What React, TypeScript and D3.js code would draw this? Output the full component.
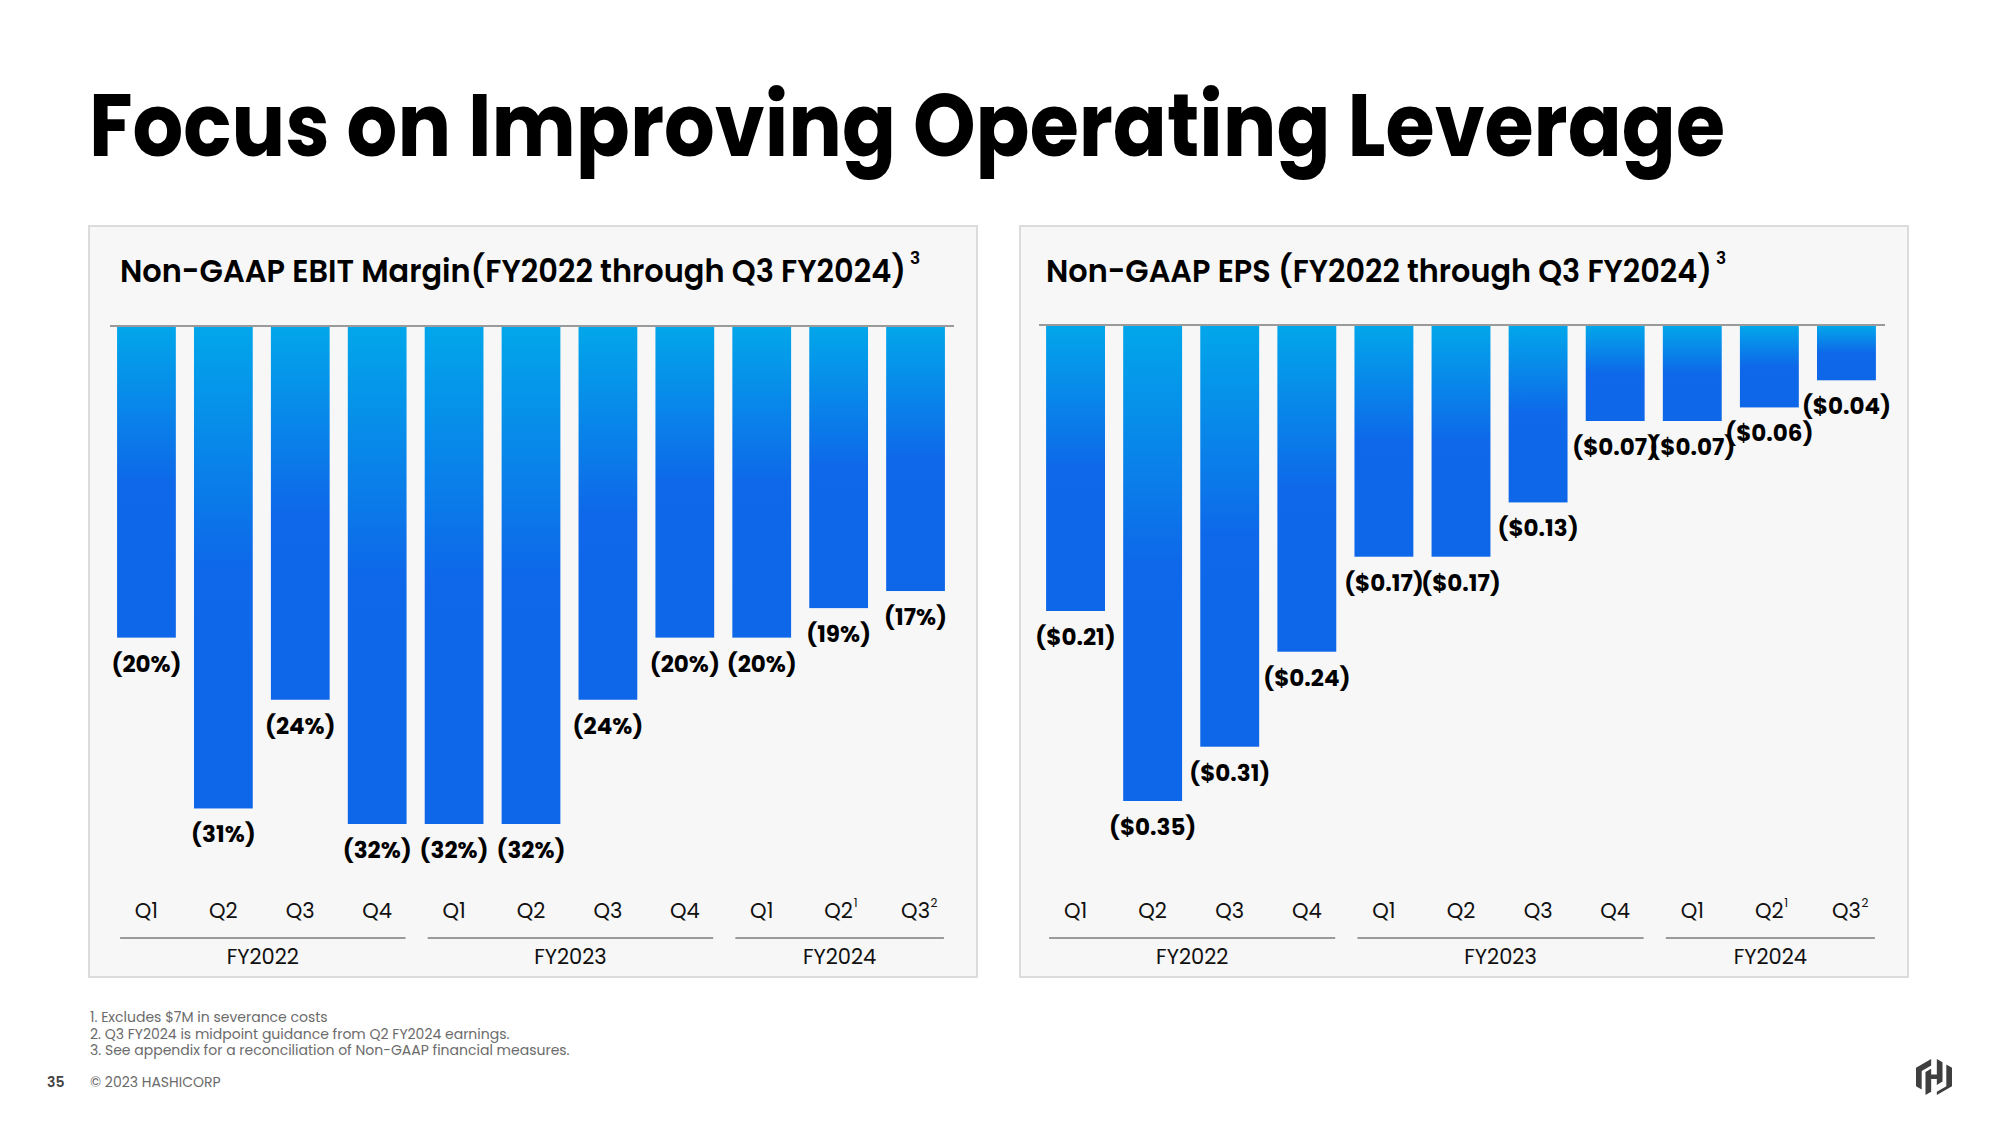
import React from "react";
import * as d3 from "d3";

const quarterLabels = ["Q1", "Q2", "Q3", "Q4", "Q1", "Q2", "Q3", "Q4", "Q1", "Q2", "Q3"];
const quarterNotes = ["", "", "", "", "", "", "", "", "", "1", "2"];
const fiscalYears = ["FY2022", "FY2023", "FY2024"];
const quartersPerYear = [4, 4, 3];
const ebitMargin = [-20, -31, -24, -32, -32, -32, -24, -20, -20, -18.1, -17];
const ebitLabels = ["(20%)", "(31%)", "(24%)", "(32%)", "(32%)", "(32%)", "(24%)", "(20%)", "(20%)", "(19%)", "(17%)"];
const epsValues = [-0.21, -0.35, -0.31, -0.24, -0.17, -0.17, -0.13, -0.07, -0.07, -0.06, -0.04];
const epsLabels = ["($0.21)", "($0.35)", "($0.31)", "($0.24)", "($0.17)", "($0.17)", "($0.13)", "($0.07)", "($0.07)", "($0.06)", "($0.04)"];
const footnotes = [
  "1. Excludes $7M in severance costs",
  "2. Q3 FY2024 is midpoint guidance from Q2 FY2024 earnings.",
  "3. See appendix for a reconciliation of Non-GAAP financial measures.",
];
const pageTitle = "Focus on Improving Operating Leverage";
const ebitTitle = "Non-GAAP EBIT Margin(FY2022 through Q3 FY2024)";
const epsTitle = "Non-GAAP EPS (FY2022 through Q3 FY2024)";

const FONT = "Poppins, 'Open Sans', sans-serif";

type PanelProps = {
  px: number;
  title: string;
  titleX: number;
  titleLen: number;
  values: number[];
  labels: string[];
  minVal: number;
  zeroY: number;
  minY: number;
  bandRange: [number, number];
};

function Panel({ px, title, titleX, titleLen, values, labels, minVal, zeroY, minY, bandRange }: PanelProps) {
  const idx = values.map((_, i) => String(i));
  const x = d3.scaleBand<string>().domain(idx).range(bandRange).paddingInner(0.236).paddingOuter(0.118);
  const y = d3.scaleLinear().domain([0, minVal]).range([zeroY, minY]);
  const bw = x.bandwidth();
  const qBase = 918;
  const lineY = 938;
  const fyBase = 964;

  let start = 0;
  const groups = fiscalYears.map((fy, g) => {
    const s = start;
    const e = start + quartersPerYear[g] - 1;
    start += quartersPerYear[g];
    const x0 = (x(String(s)) as number) + 3;
    const x1 = (x(String(e)) as number) + bw - 1;
    return { fy, x0, x1 };
  });

  const left = bandRange[0];
  const right = bandRange[1];

  return (
    <g>
      <rect x={px} y={226} width={888} height={751} fill="#f7f7f7" stroke="#dcdcdc" strokeWidth={2} />
      <text x={titleX} y={282} fontFamily={FONT} fontWeight={600} fontSize={32} fill="#000">
        <tspan textLength={titleLen} lengthAdjust="spacingAndGlyphs">
          {title}
        </tspan>
        <tspan dx={4} dy={-18} fontSize={17}>
          3
        </tspan>
      </text>
      {values.map((v, i) => {
        const bx = x(String(i)) as number;
        const by = y(0);
        const bh = y(v) - y(0);
        return (
          <g key={i}>
            <rect x={bx} y={by} width={bw} height={bh} fill="url(#barGrad)" />
            <text
              x={bx + bw / 2}
              y={y(v) + 34}
              textAnchor="middle"
              fontFamily={FONT}
              fontWeight={700}
              fontSize={23}
              fill="#000"
            >
              {labels[i]}
            </text>
            <text x={bx + bw / 2} y={qBase} textAnchor="middle" fontFamily={FONT} fontSize={21} fill="#111">
              {quarterLabels[i]}
            </text>
            {quarterNotes[i] && (
              <text x={bx + bw / 2 + 15} y={qBase - 11} fontFamily={FONT} fontSize={12} fill="#111">
                {quarterNotes[i]}
              </text>
            )}
          </g>
        );
      })}
      <line x1={left + 2} x2={right} y1={zeroY - 1} y2={zeroY - 1} stroke="#9a9a9a" strokeWidth={2} />
      {groups.map((g) => (
        <g key={g.fy}>
          <line x1={g.x0} x2={g.x1} y1={lineY} y2={lineY} stroke="#9a9a9a" strokeWidth={2} />
          <text x={(g.x0 + g.x1) / 2} y={fyBase} textAnchor="middle" fontFamily={FONT} fontSize={21} fill="#111">
            {g.fy}
          </text>
        </g>
      ))}
    </g>
  );
}

export default function App() {
  return (
    <svg
      width={2000}
      height={1125}
      style={{ position: "absolute", left: 0, top: 0, background: "#fff" }}
      xmlns="http://www.w3.org/2000/svg"
    >
      <defs>
        <linearGradient id="barGrad" x1="0" y1="0" x2="0" y2="1">
          <stop offset="0" stopColor="#02a6ea" />
          <stop offset="0.5" stopColor="#0e68e9" />
          <stop offset="1" stopColor="#0e66e9" />
        </linearGradient>
      </defs>
      <rect x={0} y={0} width={2000} height={1125} fill="#fff" />
      <text
        x={89}
        y={156}
        fontFamily={FONT}
        fontWeight={700}
        fontSize={88}
        fill="#000"
        textLength={1636}
        lengthAdjust="spacingAndGlyphs"
      >
        {pageTitle}
      </text>

      <Panel
        px={89}
        title={ebitTitle}
        titleX={120}
        titleLen={786}
        values={ebitMargin}
        labels={ebitLabels}
        minVal={-32}
        zeroY={327}
        minY={824}
        bandRange={[108, 954]}
      />
      <Panel
        px={1020}
        title={epsTitle}
        titleX={1046}
        titleLen={666}
        values={epsValues}
        labels={epsLabels}
        minVal={-0.35}
        zeroY={326}
        minY={801}
        bandRange={[1037, 1885]}
      />

      {footnotes.map((f, i) => (
        <text key={i} x={90} y={1022 + i * 16.5} fontFamily={FONT} fontSize={14} fill="#6b6b6b">
          {f}
        </text>
      ))}
      <text x={47} y={1087} fontFamily={FONT} fontSize={14} fontWeight={600} fill="#444">
        35
      </text>
      <text x={90} y={1087} fontFamily={FONT} fontSize={14} fill="#6b6b6b">
        © 2023 HASHICORP
      </text>
      <g transform="translate(1916,1059) scale(1.5)" fill="#3f3f3f">
        <path d="M10.114 0L0 5.838v12.322l3.79 2.19V8.032l6.324-3.651V0z" />
        <path d="M13.886 0v10.323H10.114V6.48L6.325 8.669v15.328l3.79-2.19v-8.43h3.771v3.874l3.79-2.19V2.19L13.886 0z" />
        <path d="M20.21 5.838v12.32l-6.324 3.652V24L24 18.161V5.838L20.21 3.65v2.188z" />
      </g>
    </svg>
  );
}
